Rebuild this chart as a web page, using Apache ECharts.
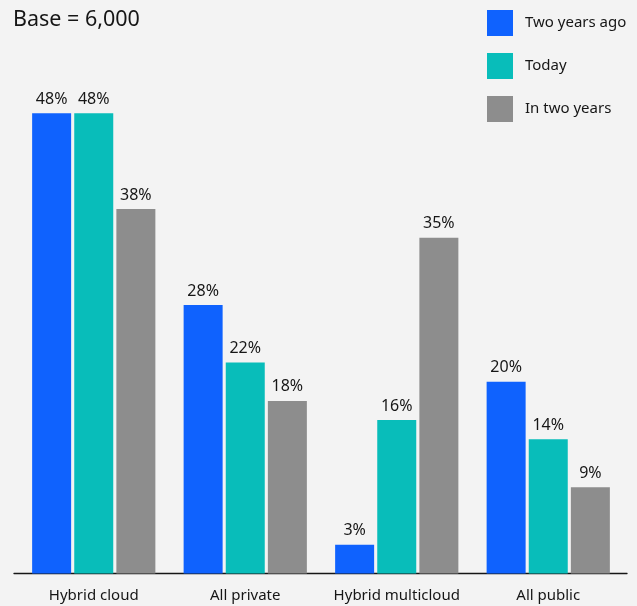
<!DOCTYPE html>
<html>
<head>
<meta charset="utf-8">
<script src="https://cdn.jsdelivr.net/npm/echarts@6/dist/echarts.min.js"></script>
<style>
  html, body { margin: 0; padding: 0; background: #f3f3f3; }
  #chart { width: 637px; height: 606px; }
</style>
</head>
<body>
<div id="chart"></div>
<script>
// Cloud deployment approach, share of respondents (%)
const categories = ['Hybrid cloud', 'All private', 'Hybrid multicloud', 'All public'];
const twoYearsAgo = [48, 28, 3, 20];
const today = [48, 22, 16, 14];
const inTwoYears = [38, 18, 35, 9];
const seriesNames = ['Two years ago', 'Today', 'In two years'];
const seriesColors = ['#0f62fe', '#08bdba', '#8d8d8d'];
const subtitle = 'Base = 6,000';

const FONT = '"Noto Sans", "Open Sans", sans-serif';
const TEXT = '#161616';

const valueSets = [twoYearsAgo, today, inTwoYears];

const chart = echarts.init(document.getElementById('chart'));
chart.setOption({
  backgroundColor: '#f3f3f3',
  animation: false,
  textStyle: { fontFamily: FONT, color: TEXT },
  title: {
    text: subtitle,
    left: 13,
    top: 9,
    padding: 0,
    textStyle: { fontFamily: FONT, fontSize: 21.5, fontWeight: 'normal', color: TEXT }
  },
  legend: {
    orient: 'vertical',
    left: 487,
    top: 10,
    padding: 0,
    itemWidth: 26,
    itemHeight: 26,
    itemGap: 17,
    icon: 'rect',
    data: seriesNames,
    textStyle: { fontFamily: FONT, fontSize: 15, color: TEXT, padding: [0, 0, 0, 7] }
  },
  grid: [
    { left: 18, right: 13, top: 94, bottom: 32.5, containLabel: false },
    { left: 14, right: 10, top: 94, bottom: 32.5, containLabel: false }
  ],
  xAxis: [
    {
      type: 'category',
      gridIndex: 0,
      data: categories,
      axisLine: { show: false },
      axisTick: { show: false },
      axisLabel: { fontFamily: FONT, fontSize: 15, color: TEXT, margin: 15, interval: 0 }
    },
    {
      type: 'category',
      gridIndex: 1,
      data: categories,
      axisLine: { show: true, lineStyle: { color: TEXT, width: 1.3 } },
      axisTick: { show: false },
      axisLabel: { show: false }
    }
  ],
  yAxis: [
    { type: 'value', gridIndex: 0, min: 0, max: 50, show: false, splitLine: { show: false } },
    { type: 'value', gridIndex: 1, min: 0, max: 50, show: false, splitLine: { show: false } }
  ],
  series: valueSets.map((vals, i) => ({
    name: seriesNames[i],
    type: 'bar',
    xAxisIndex: 0,
    yAxisIndex: 0,
    data: vals,
    barWidth: 39,
    barGap: '8%',
    itemStyle: { color: seriesColors[i] },
    label: {
      show: true,
      position: 'top',
      distance: 6,
      formatter: '{c}%',
      fontFamily: FONT,
      fontSize: 16,
      color: TEXT
    }
  }))
});
</script>
</body>
</html>
